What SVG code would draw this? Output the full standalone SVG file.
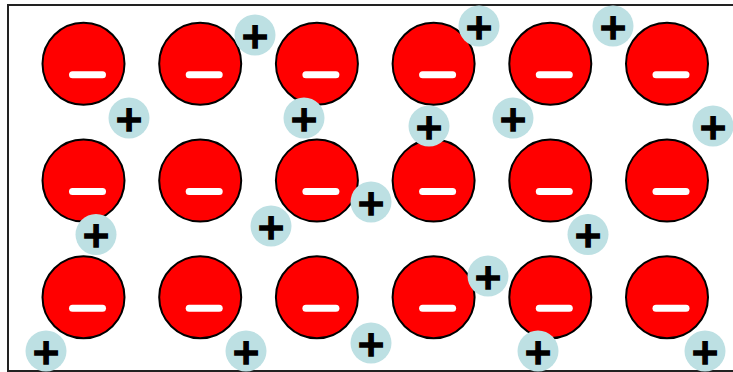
<svg xmlns="http://www.w3.org/2000/svg" width="733" height="372" viewBox="0 0 733 372">
<defs>
<style>
.frame{fill:#fff;stroke:#222;stroke-width:2}
.ball{fill:#ff0000;stroke:#000;stroke-width:2}
.bar{fill:#fff}
.pos circle{fill:#bde0e3}
.pos text{font-family:"DejaVu Sans",sans-serif;font-weight:bold;font-size:36px;text-anchor:middle;fill:#000;stroke:#000;stroke-width:1.4}
</style>
<g id="anion">
<circle class="ball" cx="0" cy="0" r="41"/>
<rect class="bar" x="-14.5" y="7.5" width="37" height="7" rx="3.5"/>
</g>
</defs>
<rect class="frame" x="8" y="5" width="730" height="366"/>
<g id="anions">
<use id="a11" href="#anion" x="83.5" y="63.8"/>
<use id="a12" href="#anion" x="200.2" y="63.8"/>
<use id="a13" href="#anion" x="316.9" y="63.8"/>
<use id="a14" href="#anion" x="433.6" y="63.8"/>
<use id="a15" href="#anion" x="550.3" y="63.8"/>
<use id="a16" href="#anion" x="667" y="63.8"/>
<use id="a21" href="#anion" x="83.5" y="180.6"/>
<use id="a22" href="#anion" x="200.2" y="180.6"/>
<use id="a23" href="#anion" x="316.9" y="180.6"/>
<use id="a24" href="#anion" x="433.6" y="180.6"/>
<use id="a25" href="#anion" x="550.3" y="180.6"/>
<use id="a26" href="#anion" x="667" y="180.6"/>
<use id="a31" href="#anion" x="83.5" y="297.2"/>
<use id="a32" href="#anion" x="200.2" y="297.2"/>
<use id="a33" href="#anion" x="316.9" y="297.2"/>
<use id="a34" href="#anion" x="433.6" y="297.2"/>
<use id="a35" href="#anion" x="550.3" y="297.2"/>
<use id="a36" href="#anion" x="667" y="297.2"/>
</g>
<g id="cations" class="pos">
<g id="c1"><circle cx="255" cy="35" r="20.5"/><text x="255" y="47.5">+</text></g>
<g id="c2"><circle cx="129" cy="118" r="20.5"/><text x="129" y="130.5">+</text></g>
<g id="c3"><circle cx="304" cy="118" r="20.5"/><text x="304" y="130.5">+</text></g>
<g id="c4"><circle cx="429" cy="126" r="20.5"/><text x="429" y="138.5">+</text></g>
<g id="c5"><circle cx="479" cy="26" r="20.5"/><text x="479" y="38.5">+</text></g>
<g id="c6"><circle cx="613" cy="26" r="20.5"/><text x="613" y="38.5">+</text></g>
<g id="c7"><circle cx="513" cy="118" r="20.5"/><text x="513" y="130.5">+</text></g>
<g id="c8"><circle cx="713" cy="126" r="20.5"/><text x="713" y="138.5">+</text></g>
<g id="c9"><circle cx="96" cy="234.5" r="20.5"/><text x="96" y="247">+</text></g>
<g id="c10"><circle cx="271" cy="226" r="20.5"/><text x="271" y="238.5">+</text></g>
<g id="c11"><circle cx="371" cy="202" r="20.5"/><text x="371" y="214.5">+</text></g>
<g id="c12"><circle cx="588" cy="234.5" r="20.5"/><text x="588" y="247">+</text></g>
<g id="c13"><circle cx="488" cy="276" r="20.5"/><text x="488" y="288.5">+</text></g>
<g id="c14"><circle cx="46" cy="351" r="20.5"/><text x="46" y="363.5">+</text></g>
<g id="c15"><circle cx="246" cy="351" r="20.5"/><text x="246" y="363.5">+</text></g>
<g id="c16"><circle cx="371" cy="343" r="20.5"/><text x="371" y="355.5">+</text></g>
<g id="c17"><circle cx="538" cy="351" r="20.5"/><text x="538" y="363.5">+</text></g>
<g id="c18"><circle cx="705" cy="351" r="20.5"/><text x="705" y="363.5">+</text></g>
</g>
<g id="connectors"/>
</svg>
